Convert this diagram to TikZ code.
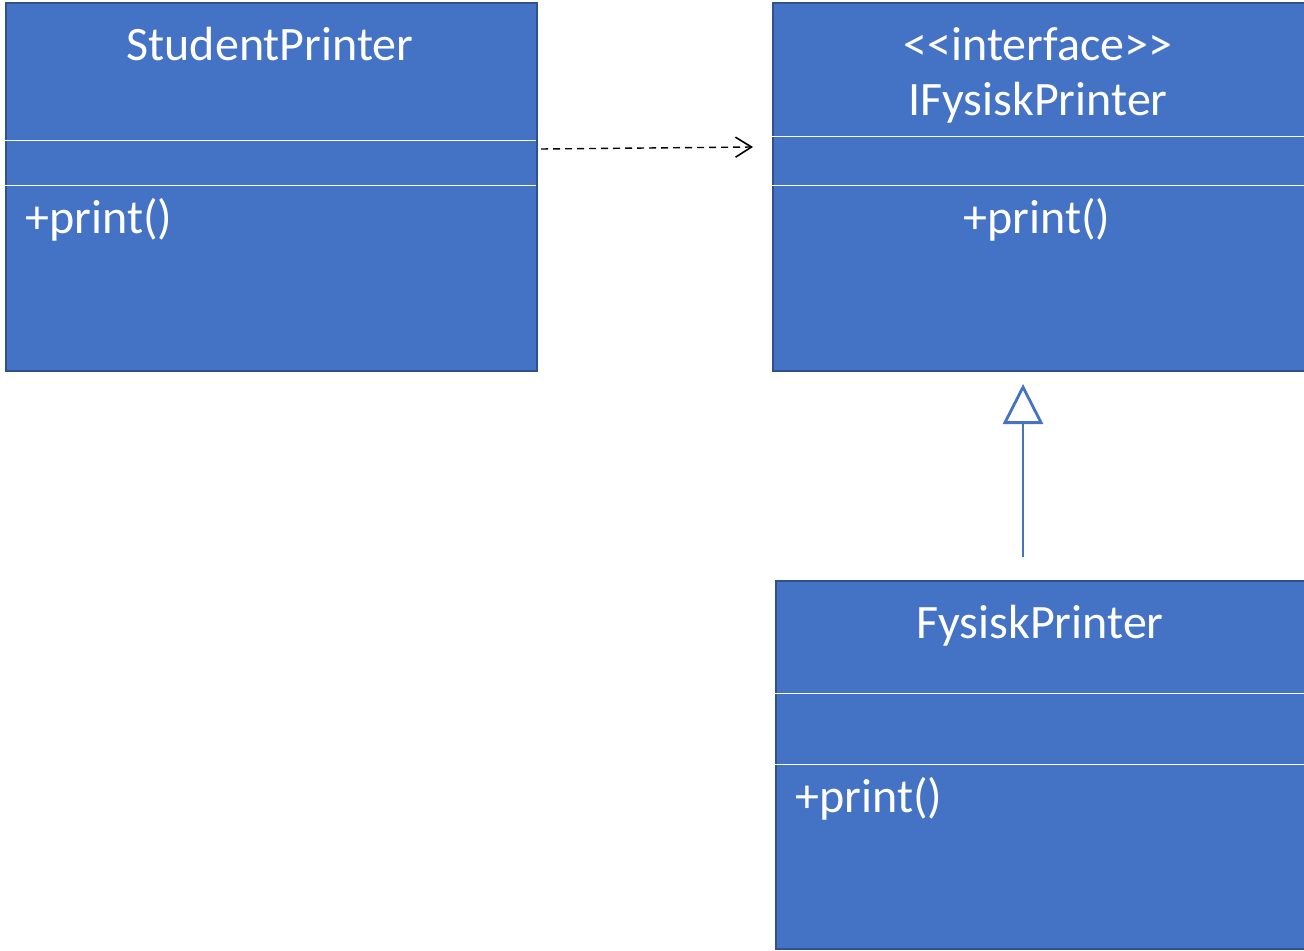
\documentclass[tikz,border=0pt]{standalone}
\usepackage{fontspec}
\setmainfont{Carlito}
\usetikzlibrary{arrows.meta}
\definecolor{boxfill}{HTML}{4472C4}
\definecolor{boxedge}{HTML}{2F528F}
\begin{document}
\begin{tikzpicture}[x=0.5pt,y=-0.5pt,
  umlbox/.style={draw=boxedge, line width=1pt, fill=boxfill, rectangle, anchor=north west, inner sep=0pt},
  divider/.style={draw=white, line width=0.5pt},
  lbl/.style={text=white, font=\fontsize{24}{29}\selectfont, inner sep=0pt, anchor=base},
  lblw/.style={lbl, anchor=base west},
  dep/.style={draw=black, line width=0.7pt, dash pattern=on 3.5pt off 2.5pt, -{Straight Barb[length=8pt,width=10pt,line width=0.8pt]}},
  inh/.style={draw=boxfill, line width=0.75pt, -{Triangle[open, length=20pt, width=20pt, line width=1.4pt]}}
]
\useasboundingbox (0,0) rectangle (1304,951);
% boxes
\node[umlbox, minimum width=265.5pt, minimum height=184pt] (sp) at (5,2) {};
\node[umlbox, minimum width=266pt, minimum height=184pt] (ip) at (772,2) {};
\node[umlbox, minimum width=265pt, minimum height=184pt] (fp) at (775,580) {};
% dividers
\draw[divider] (5,141) -- (536,141);
\draw[divider] (5,186) -- (536,186);
\draw[divider] (772,137) -- (1304,137);
\draw[divider] (772,186) -- (1304,186);
\draw[divider] (775,693) -- (1304,693);
\draw[divider] (775,764) -- (1304,764);
% texts
\node[lbl] (spt) at (270,61) {StudentPrinter};
\node[lblw] (spm) at (25,234) {+print()};
\node[lbl] (ips) at (1038,61) {\textless{}\textless{}interface\textgreater{}\textgreater{}};
\node[lbl] (ipt) at (1038,116) {IFysiskPrinter};
\node[lbl] (ipm) at (1037,234) {+print()};
\node[lbl] (fpt) at (1040,638) {FysiskPrinter};
\node[lblw] (fpm) at (795,812) {+print()};
% connectors
\coordinate (depS) at (541,149);
\coordinate (depE) at (753,147);
\draw[dep] (depS) -- (depE);
\coordinate (inhS) at (1023,557);
\coordinate (inhE) at (1023,384);
\draw[inh] (inhS) -- (inhE);
\end{tikzpicture}
\end{document}
